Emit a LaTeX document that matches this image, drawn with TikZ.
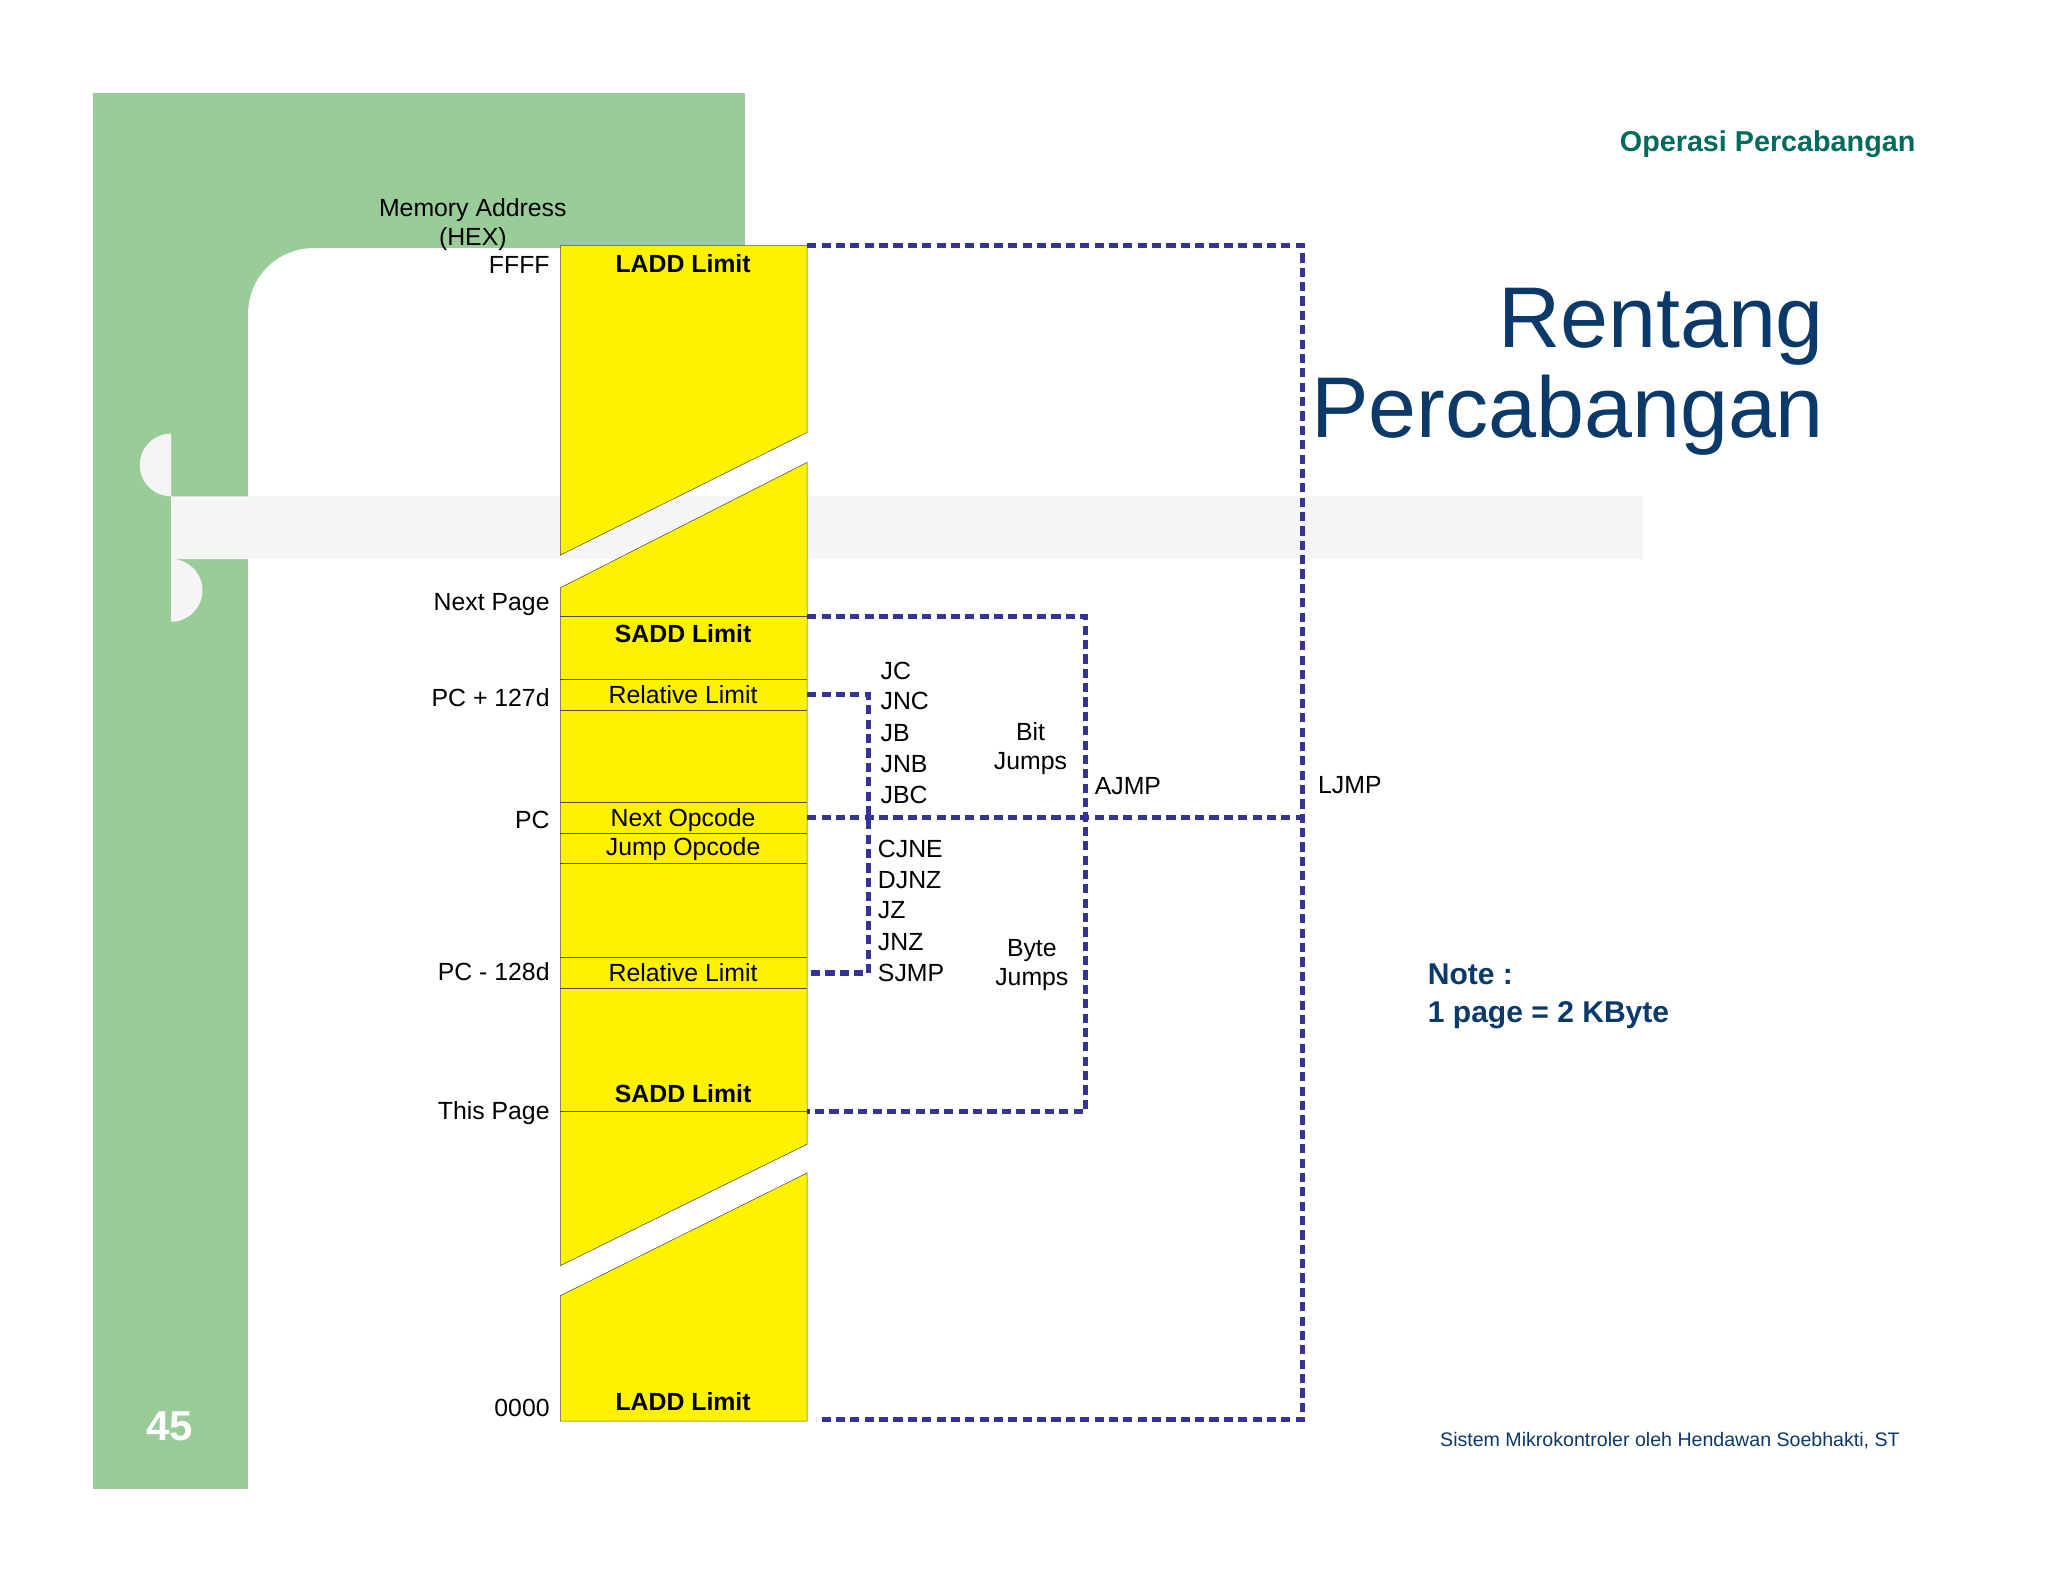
\documentclass[tikz,border=0pt]{standalone}
\usepackage{fontspec}
\setmainfont{Liberation Sans}
\usetikzlibrary{positioning}
\definecolor{slidegreen}{HTML}{9ACC9A}
\definecolor{jumpblue}{HTML}{333399}
\definecolor{titleblue}{HTML}{0B3A6A}
\definecolor{teal}{HTML}{006A5E}
\begin{document}
\begin{tikzpicture}[x=1pt,y=-1pt,
  lbl/.style={font=\fontsize{19}{22}\selectfont,inner sep=0pt},
  lft/.style={lbl,anchor=east},
  cell/.style={lbl},
  bcell/.style={lbl,font=\fontsize{19}{22}\selectfont\bfseries},
  jmp/.style={line width=4pt,draw=jumpblue,dash pattern=on 7pt off 4pt},
  yel/.style={fill=yellow,draw=black!70,line width=0.4pt},
  sep/.style={draw=black!70,line width=0.4pt}]
\useasboundingbox (0,0) rectangle (1568,1211);
\fill[slidegreen] (71,71) rectangle (570,1140);
\fill[white] (190,1211) -- (190,240) arc (180:270:50) -- (1568,190) -- (1568,1211) -- cycle;
\fill[black!4] (131,380) -- (1258,380) -- (1258,428) -- (131,428) arc (90:270:-24) -- cycle;
\fill[black!4] (131,380) arc (90:270:24) -- cycle;
\node[font=\fontsize{22}{26}\selectfont\bfseries,text=teal,anchor=east] (top) at (1470,110) {Operasi Percabangan};
\node[font=\fontsize{66}{70}\selectfont,text=titleblue,anchor=east] (t1) at (1400,250) {Rentang};
\node[font=\fontsize{66}{70}\selectfont,text=titleblue,anchor=east] (t2) at (1400,318) {Percabangan};
% memory column
\path[yel] (429,188) -- (618,188) -- (618,331) -- (429,425) -- cycle;
\path[yel] (429,450) -- (618,354) -- (618,876) -- (429,969) -- cycle;
\path[yel] (429,992) -- (618,898) -- (618,1088) -- (429,1088) -- cycle;
\foreach \y in {472,520,544,614,638,661,733,757,851}
  \draw[sep] (429,\y) -- (618,\y);
\node[bcell] (ladtop) at (523,202) {LADD Limit};
\node[bcell] (sadtop) at (523,485) {SADD Limit};
\node[cell] (reltop) at (523,532) {Relative Limit};
\node[cell] (nxt) at (523,628) {Next Opcode};
\node[cell] (jop) at (523,650) {Jump Opcode};
\node[cell] (relbot) at (523,745) {Relative Limit};
\node[bcell] (sadbot) at (523,837) {SADD Limit};
\node[bcell] (ladbot) at (523,1073) {LADD Limit};
\node[lbl,align=center] (mem) at (362,172) {Memory Address\\(HEX)};
\node[lft] (ffff) at (421,203) {FFFF};
\node[lft] (npage) at (421,463) {Next Page};
\node[lft] (pcp) at (421,534) {PC + 127d};
\node[lft] (pc) at (421,628) {PC};
\node[lft] (pcm) at (421,744) {PC - 128d};
\node[lft] (tpage) at (421,852) {This Page};
\node[lft] (zero) at (421,1078) {0000};
% jump ranges
\coordinate (l1) at (618,188); \coordinate (l2) at (997,188);
\coordinate (l3) at (997,1087); \coordinate (l4) at (625,1087);
\coordinate (l5) at (618,626); \coordinate (l6) at (997,626);
\draw[jmp] (l1) -- (l2) -- (l3) -- (l4);
\draw[jmp] (l5) -- (l6);
\coordinate (a1) at (618,472); \coordinate (a2) at (831,472);
\coordinate (a3) at (831,851); \coordinate (a4) at (618,851);
\draw[jmp] (a1) -- (a2) -- (a3) -- (a4);
\coordinate (r1) at (618,532); \coordinate (r2) at (665,532);
\coordinate (r3) at (665,745); \coordinate (r4) at (621,745);
\draw[jmp] (r1) -- (r2) -- (r3) -- (r4);
\foreach \t/\y in {JC/514,JNC/537,JB/561,JNB/585,JBC/609}
  \node[lbl,anchor=west] at (674,\y) {\t};
\foreach \t/\y in {CJNE/650,DJNZ/674,JZ/697,JNZ/721,SJMP/745}
  \node[lbl,anchor=west] at (672,\y) {\t};
\node[lbl,align=center] (bit) at (789,573) {Bit\\Jumps};
\node[lbl,align=center] (byte) at (790,739) {Byte\\Jumps};
\node[lbl,anchor=west] (ajmp) at (838,602) {AJMP};
\node[lbl,anchor=west] (ljmp) at (1009,601) {LJMP};
\node[font=\fontsize{23}{29}\selectfont\bfseries,text=titleblue,anchor=north west,align=left,inner sep=0pt] (note) at (1093,738) {Note :\\1 page = 2 KByte};
\node[font=\fontsize{32}{36}\selectfont\bfseries,text=white] (num) at (130,1092) {45};
\node[font=\fontsize{15}{18}\selectfont,text=titleblue,anchor=east] (foot) at (1458,1103) {Sistem Mikrokontroler oleh Hendawan Soebhakti, ST};
\end{tikzpicture}
\end{document}
